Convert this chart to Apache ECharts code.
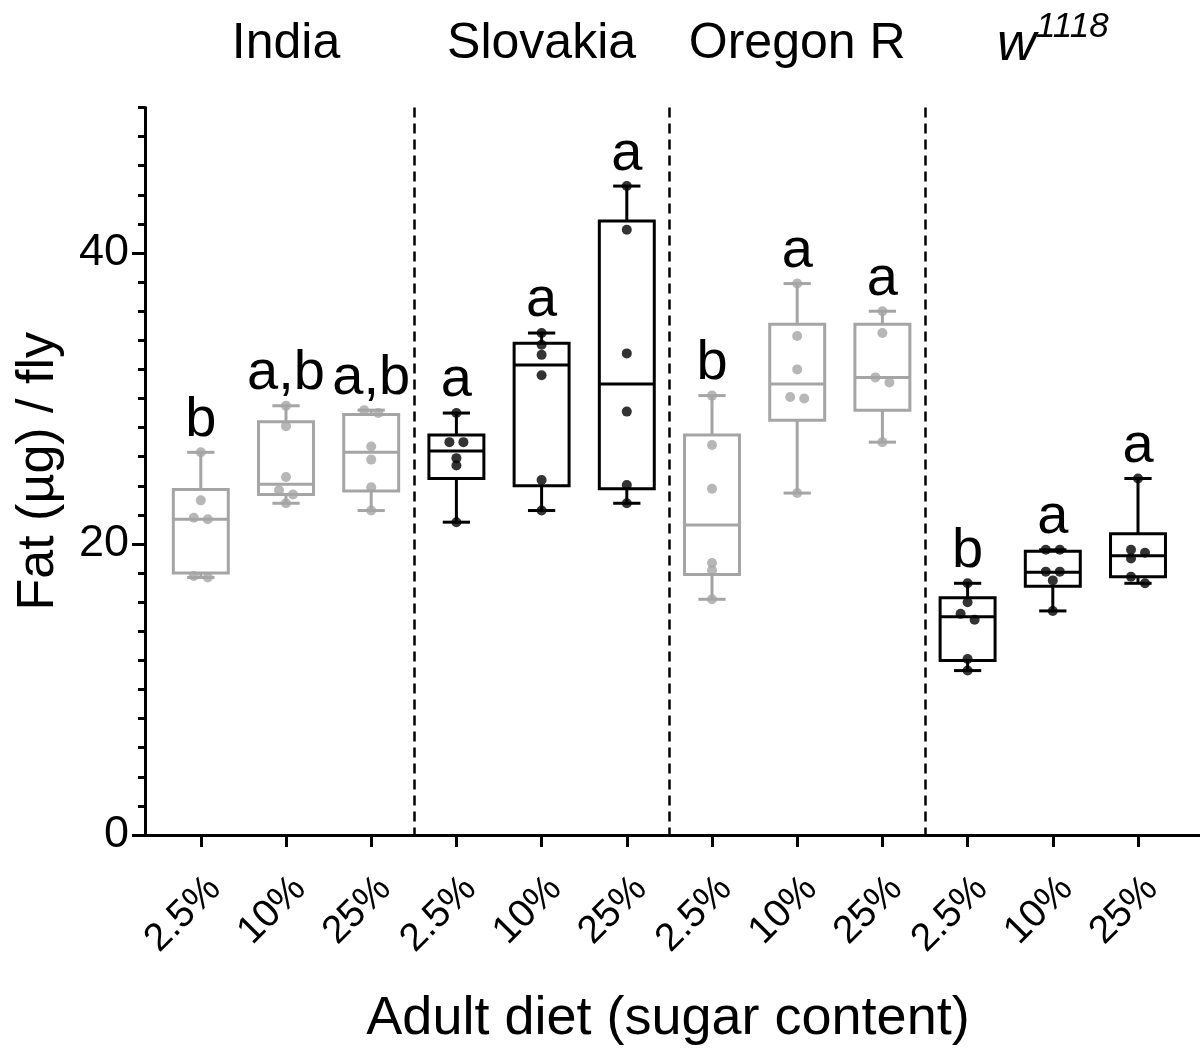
<!DOCTYPE html>
<html><head><meta charset="utf-8">
<script src="https://cdn.jsdelivr.net/npm/echarts@6/dist/echarts.min.js"></script>
<style>html,body{margin:0;padding:0;background:#fff}#c{width:1200px;height:1059px}</style>
</head><body><div id="c"></div>
<script>
// ---------- data ----------
const strains = ['India', 'Slovakia', 'Oregon R', 'w1118'];
const diets = ['2.5%', '10%', '25%'];
const categories = ['2.5%', '10%', '25%', '2.5%', '10%', '25%', '2.5%', '10%', '25%', '2.5%', '10%', '25%'];
const yTickLabels = [0, 20, 40];

const boxMin    = [17.7, 22.8, 22.3, 21.5, 22.3, 22.8, 16.2, 23.5, 27.0, 11.3, 15.4, 17.3];
const boxQ1     = [18.0, 23.4, 23.65, 24.5, 24.0, 23.8, 17.9, 28.5, 29.2, 12.0, 17.1, 17.75];
const boxMedian = [21.7, 24.1, 26.3, 26.4, 32.3, 31.0, 21.3, 31.0, 31.45, 15.0, 18.05, 19.2];
const boxQ3     = [23.75, 28.4, 28.9, 27.5, 33.8, 42.2, 27.5, 35.1, 35.1, 16.3, 19.5, 20.7];
const boxMax    = [26.3, 29.5, 29.2, 29.0, 34.5, 44.6, 30.2, 37.9, 36.0, 17.3, 19.6, 24.5];

const points = [
  [26.3, 23.0, 21.8, 21.7, 17.8, 17.7],
  [29.5, 28.1, 24.6, 23.7, 23.4, 22.8],
  [29.2, 29.0, 26.7, 25.8, 23.9, 22.3],
  [29.0, 27.0, 27.0, 25.9, 25.4, 21.5],
  [34.5, 33.7, 33.0, 31.6, 24.4, 22.3],
  [44.6, 41.6, 33.1, 29.1, 24.05, 22.8],
  [30.2, 26.8, 23.8, 18.7, 18.2, 16.2],
  [37.9, 34.3, 32.0, 30.1, 30.0, 23.5],
  [36.0, 34.5, 31.45, 31.1, 27.0],
  [17.3, 16.0, 15.2, 14.8, 12.1, 11.3],
  [19.6, 19.6, 18.1, 18.1, 17.5, 15.4],
  [24.5, 19.6, 19.4, 19.0, 17.75, 17.3]
];
const letters = ['b', 'a,b', 'a,b', 'a', 'a', 'a', 'b', 'a', 'a', 'b', 'a', 'a'];

// ---------- styles ----------
const strainColors = ['#a5a5a5', '#000000', '#a5a5a5', '#000000'];
const FONT = '"Liberation Sans", Arial, Helvetica, sans-serif';
const GRID_TOP = 107.5, GRID_BOTTOM = 224;

// box data rows
const boxData = categories.map((c, i) => [i, boxMin[i], boxQ1[i], boxMedian[i], boxQ3[i], boxMax[i]]);

// dot layout: spread near-equal values sideways
const DOT_STEP = 14;
const dotData = [];
points.forEach((vals, i) => {
  const order = vals.map((v, k) => k).sort((a, b) => vals[b] - vals[a]);
  const offs = new Array(vals.length).fill(0);
  let cluster = [order[0]];
  const flush = () => {
    if (cluster.length > 1) cluster.forEach((k, j) => { offs[k] = (j % 2 === 0 ? -1 : 1) * DOT_STEP / 2; });
  };
  for (let j = 1; j < order.length; j++) {
    if (vals[order[j - 1]] - vals[order[j]] < 0.46) cluster.push(order[j]);
    else { flush(); cluster = [order[j]]; }
  }
  flush();
  vals.forEach((v, k) => dotData.push({
    value: [i, v], symbolOffset: [offs[k], 0],
    itemStyle: { color: strainColors[Math.floor(i / 3)] }
  }));
});

const chart = echarts.init(document.getElementById('c'), null, { renderer: 'canvas' });

const option = {
  backgroundColor: '#fff',
  animation: false,
  textStyle: { fontFamily: FONT },
  grid: [
    { left: 145, right: 0, top: GRID_TOP, bottom: GRID_BOTTOM },
    { left: 158.2, right: 19.4, top: GRID_TOP, bottom: GRID_BOTTOM }
  ],
  xAxis: [
    {
      gridIndex: 0, type: 'value', min: 0, max: 1,
      axisLine: { show: true, onZero: false, lineStyle: { color: '#000', width: 3 } },
      axisTick: { show: false }, axisLabel: { show: false }, splitLine: { show: false },
      name: 'Adult diet (sugar content)', nameLocation: 'middle', nameGap: 157,
      nameTextStyle: { fontSize: 54, color: '#000', fontFamily: FONT, padding: [0, 9, 0, 0] }
    },
    {
      gridIndex: 1, type: 'category', data: categories, boundaryGap: true,
      axisLine: { show: false },
      axisTick: { show: true, alignWithLabel: true, interval: 0, length: 12, lineStyle: { color: '#000', width: 3 } },
      axisLabel: { interval: 0, rotate: 45, fontSize: 39, margin: 34, verticalAlign: 'top', color: '#000', fontFamily: FONT },
      splitLine: {
        show: true,
        interval: (idx) => idx === 3 || idx === 6 || idx === 9,
        showMinLine: true, showMaxLine: false,
        lineStyle: { color: '#000', width: 2.5, type: [10, 6] }
      }
    }
  ],
  yAxis: [
    {
      gridIndex: 0, type: 'value', min: 0, max: 50, interval: 2, position: 'left',
      axisLine: { show: true, lineStyle: { color: '#000', width: 3 } },
      axisTick: { show: true, length: 7, lineStyle: { color: '#000', width: 3 } },
      axisLabel: { show: false }, splitLine: { show: false }
    },
    {
      gridIndex: 0, type: 'value', min: 0, max: 50, interval: 20, position: 'left',
      axisLine: { show: false },
      axisTick: { show: true, customValues: yTickLabels, length: 13, lineStyle: { color: '#000', width: 3 } },
      axisLabel: { show: true, customValues: yTickLabels, fontSize: 45, margin: 16, color: '#000', fontFamily: FONT },
      splitLine: { show: false },
      name: 'Fat (µg) / fly', nameLocation: 'middle', nameGap: 80,
      nameTextStyle: { fontSize: 52, color: '#000', fontFamily: FONT }
    },
    { gridIndex: 1, type: 'value', min: 0, max: 50, show: false }
  ],
  series: [
    {
      type: 'custom', xAxisIndex: 1, yAxisIndex: 2, z: 2,
      data: boxData,
      encode: { x: 0, y: [1, 2, 3, 4, 5] },
      renderItem: function (params, api) {
        const i = api.value(0);
        const vals = [api.value(1), api.value(2), api.value(3), api.value(4), api.value(5)];
        const bw = api.size([1, 0])[0];
        const boxW = bw * 0.645, capW = bw * 0.32;
        const cx = api.coord([i, vals[2]])[0];
        const y = v => api.coord([i, v])[1];
        const color = strainColors[Math.floor(i / 3)];
        const st = () => ({ stroke: color, lineWidth: 3, fill: null, lineCap: 'butt' });
        return {
          type: 'group', children: [
            { type: 'line', shape: { x1: cx, y1: y(vals[3]), x2: cx, y2: y(vals[4]) }, style: st() },
            { type: 'line', shape: { x1: cx, y1: y(vals[1]), x2: cx, y2: y(vals[0]) }, style: st() },
            { type: 'line', shape: { x1: cx - capW / 2, y1: y(vals[4]), x2: cx + capW / 2, y2: y(vals[4]) }, style: st() },
            { type: 'line', shape: { x1: cx - capW / 2, y1: y(vals[0]), x2: cx + capW / 2, y2: y(vals[0]) }, style: st() },
            { type: 'rect', shape: { x: cx - boxW / 2, y: y(vals[3]), width: boxW, height: y(vals[1]) - y(vals[3]) },
              style: { stroke: color, lineWidth: 3, fill: 'rgba(0,0,0,0)' } },
            { type: 'line', shape: { x1: cx - boxW / 2, y1: y(vals[2]), x2: cx + boxW / 2, y2: y(vals[2]) }, style: st() }
          ]
        };
      }
    },
    {
      type: 'scatter', xAxisIndex: 1, yAxisIndex: 2, z: 3,
      symbol: 'circle', symbolSize: 10,
      data: dotData
    },
    {
      type: 'scatter', xAxisIndex: 1, yAxisIndex: 2, z: 4,
      symbol: 'circle', symbolSize: 0,
      itemStyle: { color: '#000', opacity: 1 },
      emphasis: { disabled: true },
      data: boxMax.map((v, i) => [i, v]),
      label: {
        show: true, position: 'top', distance: 4,
        formatter: p => letters[p.dataIndex],
        fontSize: 56, color: '#000', opacity: 1, fontFamily: FONT
      }
    }
  ]
};
chart.setOption(option);

// strain headers centred on each group's middle category
const headerEls = strains.map((s, g) => {
  const x = chart.convertToPixel({ xAxisIndex: 1 }, g * 3 + 1);
  if (s === 'w1118') {
    return {
      type: 'text', x: x, y: 45,
      style: {
        text: '{w|w}{s|1118}', align: 'center', verticalAlign: 'middle',
        textAlign: 'center', textVerticalAlign: 'middle', fill: '#000',
        rich: {
          w: { fontSize: 54, fontStyle: 'italic', fontFamily: FONT, lineHeight: 70, verticalAlign: 'middle', fill: '#000' },
          s: { fontSize: 35, fontStyle: 'italic', fontFamily: FONT, lineHeight: 35, verticalAlign: 'top', fill: '#000' }
        }
      }
    };
  }
  return {
    type: 'text', x: x, y: 44,
    style: {
      text: s, fontSize: 50, fontFamily: FONT, fill: '#000',
      align: 'center', verticalAlign: 'middle', textAlign: 'center', textVerticalAlign: 'middle'
    }
  };
});
chart.setOption({ graphic: headerEls });
</script></body></html>
